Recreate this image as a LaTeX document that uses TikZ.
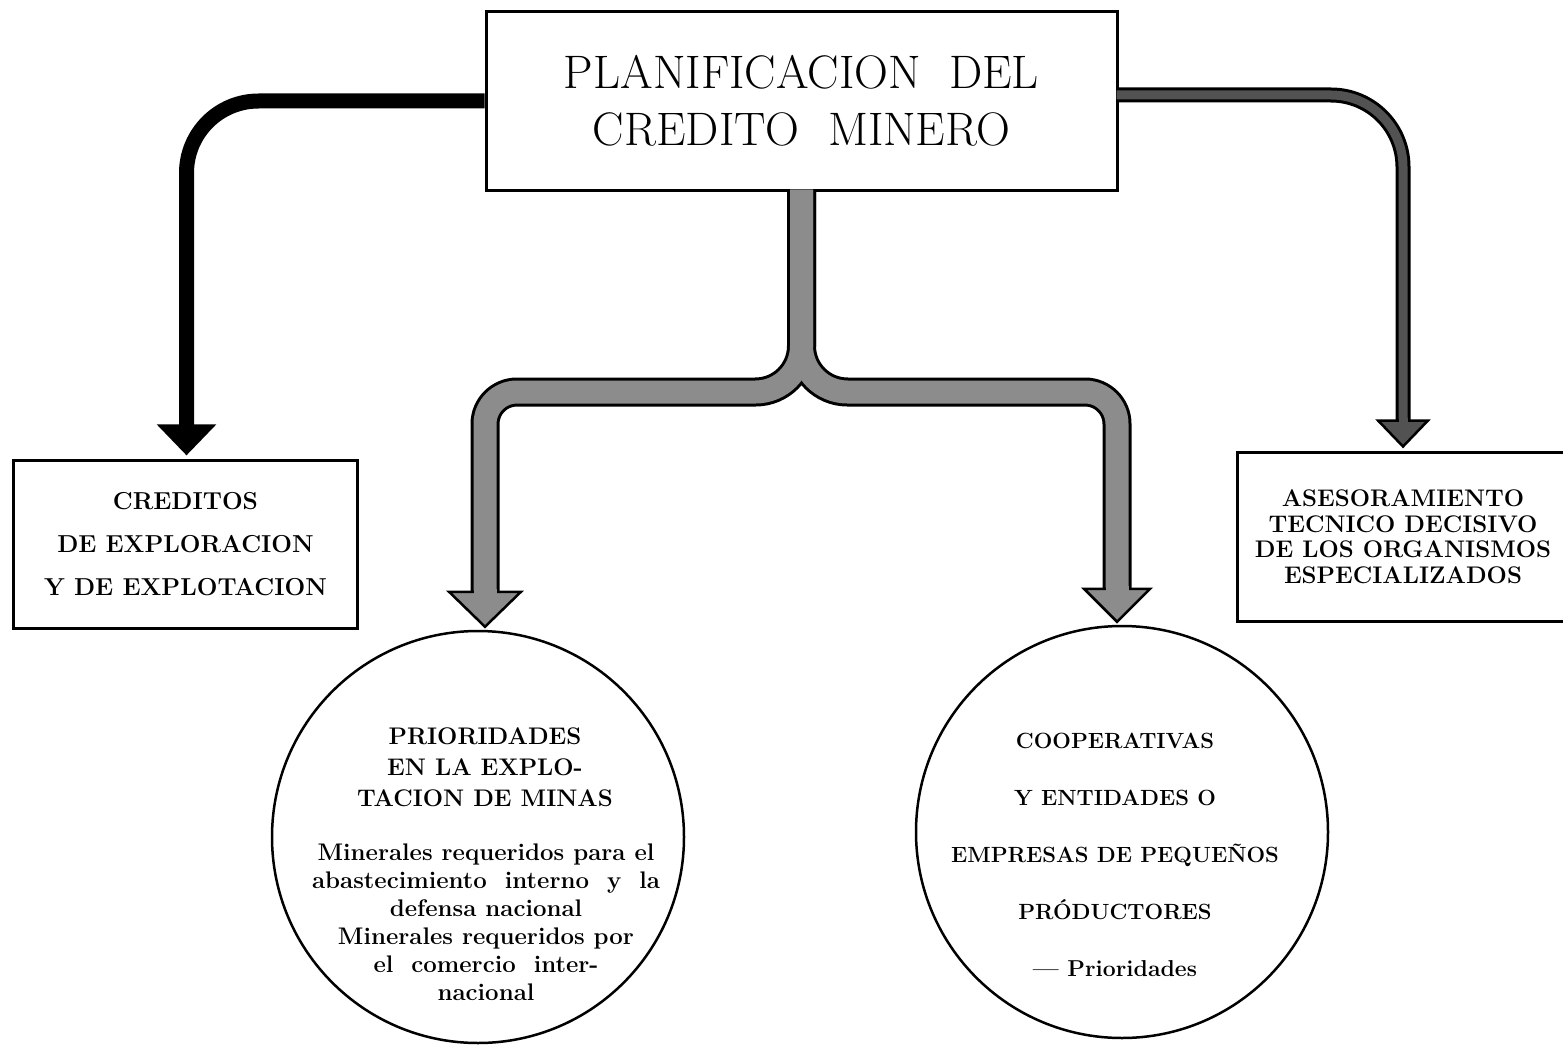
\documentclass[tikz,border=0pt]{standalone}
\usetikzlibrary{calc,positioning}

\tikzset{
    box/.style={draw, line width=3pt, rectangle, inner sep=0pt, align=center},
    disc/.style={draw, line width=2.5pt, circle, inner sep=0pt, minimum size=412pt},
    blurb/.style={align=center, inner sep=0pt},
    outerpipe/.style={draw=black, line width=#1},
    innerpipe/.style={line width=#1},
}
% arrow head: tip, half width, height, fill, half width of pipe inside
\newcommand{\tiphead}[5]{%
    \filldraw[draw=black, line width=2.5pt, fill=#4, line join=miter]
        ($(#1)+(-#2,-#3)$) -- (#1) -- ($(#1)+(#2,-#3)$) -- cycle;
    \fill[#4] ($(#1)+(-#5,-#3-3)$) rectangle ($(#1)+(#5,-#3+3)$);
}

\begin{document}
\begin{tikzpicture}[x=1pt, y=-1pt]
    \clip (0,0) rectangle (1563,1054);
    \fill[white] (0,0) rectangle (1563,1054);
    % Boxes
    \node[box, minimum width=631pt, minimum height=178pt,
        font=\fontsize{47}{57}\selectfont] (plan) at (801.5,101)
        {PLANIFICACION~~DEL\\CREDITO~~MINERO};
    \node[box, minimum width=344pt, minimum height=168pt,
        font=\bfseries\fontsize{24.5}{43}\selectfont] (credit) at (185.5,544)
        {CREDITOS\\DE EXPLORACION\\Y DE EXPLOTACION};
    \node[box, minimum width=332pt, minimum height=169pt,
        font=\bfseries\fontsize{24}{25.5}\selectfont] (advice) at (1403,536.5)
        {ASESORAMIENTO\\TECNICO DECISIVO\\DE LOS ORGANISMOS\\ESPECIALIZADOS};
    % Circles
    \node[disc] (prio) at (478,837) {};
    \node[disc] (coop) at (1122,832) {};
    % Texts in the circles
    \node[blurb, font=\bfseries\fontsize{24}{31}\selectfont] (prioHead) at (485,767)
        {PRIORIDADES\\EN LA EXPLO-\\TACION DE MINAS};
    \node[blurb, font=\bfseries\fontsize{24}{28}\selectfont] (prioBody) at (486,922)
        {Minerales requeridos para el\\abastecimiento~~interno~~y~~la\\defensa nacional\\Minerales requeridos por\\el~~comercio~~inter-\\nacional};
    \node[blurb, font=\bfseries\fontsize{22}{57}\selectfont] (coopText) at (1115,855)
        {COOPERATIVAS\\Y ENTIDADES O\\EMPRESAS DE PEQUEÑOS\\PRÓDUCTORES\\{\fontsize{23}{57}\selectfont --- Prioridades}};
    % Tips
    \coordinate (creditTip) at ($(credit.north)+(1,-5)$);
    \coordinate (adviceTip) at ($(advice.north)+(0,-4)$);
    \coordinate (prioTip) at ($(prio.north)+(7,-3)$);
    \coordinate (coopTip) at ($(coop.north)+(-5,-3)$);
    \coordinate (junc) at (plan.south |- 0,392);
    % Left pipe
    \draw[outerpipe=15pt, rounded corners=72pt] (plan.west) -| ($(creditTip)+(0,-28)$);
    \tiphead{creditTip}{27}{28}{black}{5}
    % Right pipe
    \draw[outerpipe=15pt, rounded corners=72pt] ($(plan.east)+(0,-6)$) -| ($(adviceTip)+(0,-26)$);
    \draw[innerpipe=9pt, black!68, rounded corners=72pt] ($(plan.east)+(-2,-6)$) -| ($(adviceTip)+(0,-26)$);
    \tiphead{adviceTip}{25}{26}{black!68}{4.5}
    % Middle pipe
    \draw[outerpipe=29pt] (plan.south) [rounded corners=46pt] -- (junc) [rounded corners=32pt] -- (junc -| prioTip) -- ($(prioTip)+(0,-35)$);
    \draw[outerpipe=29pt] (plan.south) [rounded corners=46pt] -- (junc) [rounded corners=32pt] -- (junc -| coopTip) -- ($(coopTip)+(0,-33)$);
    \draw[innerpipe=23pt, black!45] ($(plan.south)+(0,-2)$) [rounded corners=46pt] -- (junc) [rounded corners=32pt] -- (junc -| prioTip) -- ($(prioTip)+(0,-35)$);
    \draw[innerpipe=23pt, black!45] ($(plan.south)+(0,-2)$) [rounded corners=46pt] -- (junc) [rounded corners=32pt] -- (junc -| coopTip) -- ($(coopTip)+(0,-33)$);
    \tiphead{prioTip}{36}{35}{black!45}{11.5}
    \tiphead{coopTip}{33}{33}{black!45}{11.5}
\end{tikzpicture}
\end{document}
